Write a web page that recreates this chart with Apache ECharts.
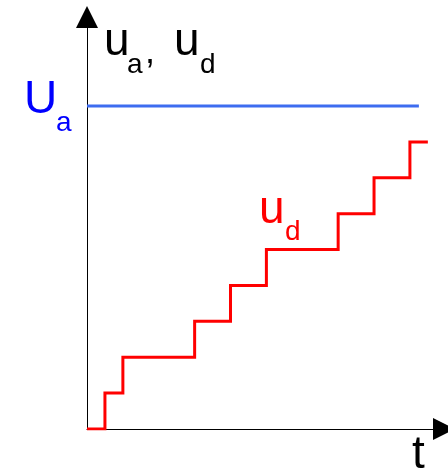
<!DOCTYPE html>
<html lang="en">
  <head>
    <meta charset="UTF-8" />
    <title>u_a, u_d</title>
    <script src="https://cdn.jsdelivr.net/npm/echarts@6/dist/echarts.min.js"></script>
    <style>
      body { margin: 0; background: #fff; }
    </style>
  </head>
  <body>
    <div id="main" style="width: 448px; height: 474px"></div>
    <script type="text/javascript">
      // staircase u_d : time where each level starts, and the level
      var stepTimes = [0, 1, 2, 6, 8, 10, 14, 16, 18, 19];
      var udLevels = [0, 1, 2, 3, 4, 5, 6, 7, 8, 8];
      // reference U_a
      var uaLevel = 9;
      var uaStart = 0;
      var uaEnd = 18.5;
      // axis ranges
      var tMax = 19.9;
      var uMax = 11.48;

      var font = "Liberation Sans, Arial, sans-serif";

      var myChart = echarts.init(document.getElementById("main"));

      var udData = stepTimes.map(function (t, i) {
        return [t, udLevels[i]];
      });
      var uaData = [
        [uaStart, uaLevel],
        [uaEnd, uaLevel],
      ];

      function txt(str, x, y, size, color) {
        return {
          type: "text",
          style: {
            text: str,
            x: x,
            y: y,
            font: size + "px " + font,
            fill: color,
            textAlign: "left",
            verticalAlign: "middle",
          },
        };
      }

      var axisLine = {
        show: true,
        onZero: true,
        symbol: ["none", "triangle"],
        symbolSize: [22, 22],
        lineStyle: { color: "#000", width: 1 },
      };

      var option = {
        animation: false,
        grid: { left: 87, right: 4, top: 17, bottom: 45 },
        xAxis: {
          type: "value",
          min: 0,
          max: tMax,
          axisLine: axisLine,
          axisTick: { show: false },
          axisLabel: { show: false },
          splitLine: { show: false },
        },
        yAxis: {
          type: "value",
          min: 0,
          max: uMax,
          axisLine: axisLine,
          axisTick: { show: false },
          axisLabel: { show: false },
          splitLine: { show: false },
        },
        series: [
          {
            name: "U_a",
            type: "line",
            data: uaData,
            showSymbol: false,
            lineStyle: { color: "#3d6cf0", width: 3, cap: "butt" },
          },
          {
            name: "u_d",
            type: "line",
            step: "end",
            data: udData,
            showSymbol: false,
            lineStyle: { color: "#ff0000", width: 3, join: "miter", cap: "butt" },
          },
        ],
        graphic: [
          // y axis name: u_a, u_d
          txt("u", 104, 42, 46, "#000"),
          txt("a", 127, 65, 28, "#000"),
          txt(",", 145, 53, 36, "#000"),
          txt("u", 174, 42, 46, "#000"),
          txt("d", 200, 65, 28, "#000"),
          // U_a
          txt("U", 24, 100, 46, "#0000ff"),
          txt("a", 56, 123, 28, "#0000ff"),
          // u_d
          txt("u", 259, 210, 46, "#ff0000"),
          txt("d", 285, 232, 28, "#ff0000"),
          // x axis name
          txt("t", 412, 455, 46, "#000"),
        ],
      };
      myChart.setOption(option);
    </script>
  </body>
</html>
